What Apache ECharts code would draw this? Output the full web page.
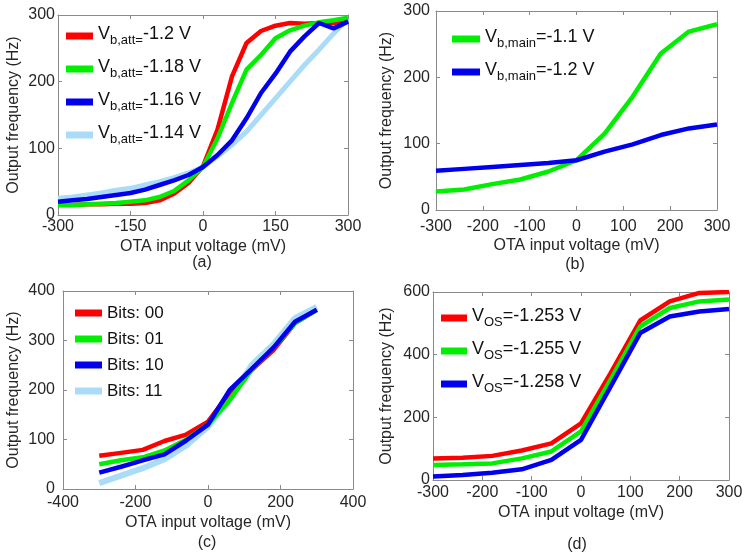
<!DOCTYPE html>
<html><head><meta charset="utf-8">
<script src="https://cdn.jsdelivr.net/npm/echarts@6/dist/echarts.min.js"></script>
<style>html,body{margin:0;padding:0;background:#fff}#c{width:750px;height:560px}</style>
</head><body><div id="c"></div>
<script>
// ---- data ----
const xA = [-300,-270,-240,-210,-180,-150,-120,-90,-60,-30,0,30,60,90,120,150,180,210,240,270,300];
const aRed   = [15,15,16,16,17,17,18,22,32,48,73,128,208,258,276,284,288,287,288,288,292];
const aGreen = [15,15,16,17,18,20,22,27,36,52,72,115,168,218,240,265,277,284,289,292,296];
const aBlue  = [20,22,24,27,30,33,38,45,52,60,72,90,112,145,183,212,245,268,288,280,290];
const aLight = [25,27,30,33,37,40,45,50,56,63,72,88,105,125,150,175,200,225,248,272,295];
const aNames = [['V','b,att=','-1.2 V'],['V','b,att=','-1.18 V'],['V','b,att=','-1.16 V'],['V','b,att=','-1.14 V']];

const xB = [-300,-240,-180,-120,-60,0,60,120,180,240,300];
const bGreen = [28,31,39,46,58,75,115,171,236,269,280];
const bBlue  = [59,62,65,68,71,75,88,99,113,123,129];
const bNames = [['V','b,main','=-1.1 V'],['V','b,main','=-1.2 V']];

const xC = [-300,-240,-180,-120,-60,0,60,120,180,240,300];
const cRed   = [67,73,79,97,110,136,195,240,280,335,362];
const cGreen = [50,58,64,78,100,130,180,240,285,335,362];
const cBlue  = [33,45,58,70,98,130,200,242,285,338,362];
const cLight = [12,27,42,60,88,126,180,250,292,345,368];
const cNames = ['Bits: 00','Bits: 01','Bits: 10','Bits: 11'];

const xD = [-300,-240,-180,-120,-60,0,60,120,180,240,300];
const dRed   = [69,71,77,94,117,181,341,509,570,597,600];
const dGreen = [48,50,53,69,91,155,320,490,549,570,576];
const dBlue  = [11,16,23,34,64,128,298,469,522,538,546];
const dNames = [['V','OS','=-1.253 V'],['V','OS','=-1.255 V'],['V','OS','=-1.258 V']];

const xTicksA = [-300,300,150], yTicksA = [0,300,100];
const xTicksB = [-300,300,100], yTicksB = [0,300,100];
const xTicksC = [-400,400,200], yTicksC = [0,400,100];
const xTicksD = [-300,300,100], yTicksD = [0,600,200];

// ---- styles ----
const FONT = 'Liberation Sans, Arial, sans-serif';
const RED='#ff0000', GREEN='#00ee00', BLUE='#0000ee', LIGHT='#aadcf8';
const AXC = '#8a8a8a', TXT = '#262626';

const grids = [
  {left:58, top:15, width:290, height:200},
  {left:436, top:11, width:281, height:199},
  {left:63, top:291, width:290, height:198},
  {left:433, top:292, width:296, height:188}
];
const axCfg = [
  {xt:xTicksA, yt:yTicksA, xm:4, ym:3, xg:24, yg:36},
  {xt:xTicksB, yt:yTicksB, xm:9, ym:6, xg:28, yg:41},
  {xt:xTicksC, yt:yTicksC, xm:6, ym:8, xg:26, yg:41},
  {xt:xTicksD, yt:yTicksD, xm:5, ym:3, xg:25, yg:38}
];
const xAxis = [], yAxis = [];
axCfg.forEach((c, i) => {
  const common = {type:'value', gridIndex:i, axisLine:{show:true, onZero:false, lineStyle:{color:AXC, width:1}},
    axisTick:{show:true, inside:true, length:4, lineStyle:{color:AXC}}, splitLine:{show:false}};
  xAxis.push(Object.assign({}, common, {position:'bottom', min:c.xt[0], max:c.xt[1], interval:c.xt[2],
    axisLabel:{color:TXT, fontSize:16, fontFamily:FONT, margin:c.xm},
    name:'OTA input voltage (mV)', nameLocation:'middle', nameGap:c.xg,
    nameTextStyle:{color:TXT, fontSize:16, fontFamily:FONT}}));
  xAxis.push(Object.assign({}, common, {position:'top', min:c.xt[0], max:c.xt[1], interval:c.xt[2], axisLabel:{show:false}}));
  yAxis.push(Object.assign({}, common, {position:'left', min:c.yt[0], max:c.yt[1], interval:c.yt[2],
    axisLabel:{color:TXT, fontSize:16, fontFamily:FONT, margin:c.ym},
    name:'Output frequency (Hz)', nameLocation:'middle', nameGap:c.yg,
    nameTextStyle:{color:TXT, fontSize:16, fontFamily:FONT}}));
  yAxis.push(Object.assign({}, common, {position:'right', min:c.yt[0], max:c.yt[1], interval:c.yt[2], axisLabel:{show:false}}));
});

function pairs(xs, ys){ return xs.map((x,k)=>[x, ys[k]]); }
function nm(parts){ return Array.isArray(parts) ? parts.join('') : parts; }
const series = [];
function addS(gi, parts, xs, ys, color, w, z){
  series.push({type:'line', name:nm(parts), xAxisIndex:2*gi, yAxisIndex:2*gi, data:pairs(xs,ys),
    showSymbol:false, symbol:'none', lineStyle:{color:color, width:w}, itemStyle:{color:color}, z:z});
}
addS(0, aNames[3], xA, aLight, LIGHT, 5, 2);
addS(0, aNames[0], xA, aRed, RED, 4.5, 3);
addS(0, aNames[1], xA, aGreen, GREEN, 4.5, 4);
addS(0, aNames[2], xA, aBlue, BLUE, 4.5, 5);
addS(1, bNames[0], xB, bGreen, GREEN, 4.5, 3);
addS(1, bNames[1], xB, bBlue, BLUE, 4.5, 4);
addS(2, cNames[3], xC, cLight, LIGHT, 6, 2);
addS(2, cNames[0], xC, cRed, RED, 4.5, 3);
addS(2, cNames[1], xC, cGreen, GREEN, 4.5, 4);
addS(2, cNames[2], xC, cBlue, BLUE, 4.5, 5);
addS(3, dNames[0], xD, dRed, RED, 4.5, 3);
addS(3, dNames[1], xD, dGreen, GREEN, 4.5, 4);
addS(3, dNames[2], xD, dBlue, BLUE, 4.5, 5);

const richSub = {
  m:{fontSize:18, lineHeight:22, verticalAlign:'top', color:'#111', fontFamily:FONT},
  s:{fontSize:13, lineHeight:14, verticalAlign:'bottom', padding:[12,0,0,0], color:'#111', fontFamily:FONT}
};
function subLegend(namesArr, left, top, iw){
  const map = {};
  namesArr.forEach(p => { map[nm(p)] = '{m|'+p[0]+'}{s|'+p[1]+'}{m|'+p[2]+'}'; });
  return {data:namesArr.map(nm), orient:'vertical', left:left, top:top, padding:0, itemGap:8,
    itemWidth:iw, itemHeight:7, icon:'rect', formatter:n => map[n],
    textStyle:{rich:richSub}};
}
const legend = [
  subLegend(aNames, 66, 22, 27),
  subLegend(bNames, 452, 25, 28),
  {data:cNames, orient:'vertical', left:75, top:303, padding:0, itemGap:6, itemWidth:27, itemHeight:7, icon:'rect',
   textStyle:{fontSize:17, lineHeight:20, color:'#111', fontFamily:FONT}},
  subLegend(dNames, 441, 304, 26)
];

const subLabels = [['(a)',202,263],['(b)',575,265],['(c)',207,543],['(d)',577,545]];
const graphic = subLabels.map(s => ({type:'text', x:s[1], y:s[2],
  style:{text:s[0], align:'center', verticalAlign:'middle', fontSize:16, fontFamily:FONT, fill:TXT}}));

const chart = echarts.init(document.getElementById('c'), null, {renderer:'canvas'});
chart.setOption({animation:false, backgroundColor:'#fff', grid:grids, xAxis:xAxis, yAxis:yAxis,
  series:series, legend:legend, graphic:graphic});
</script></body></html>
